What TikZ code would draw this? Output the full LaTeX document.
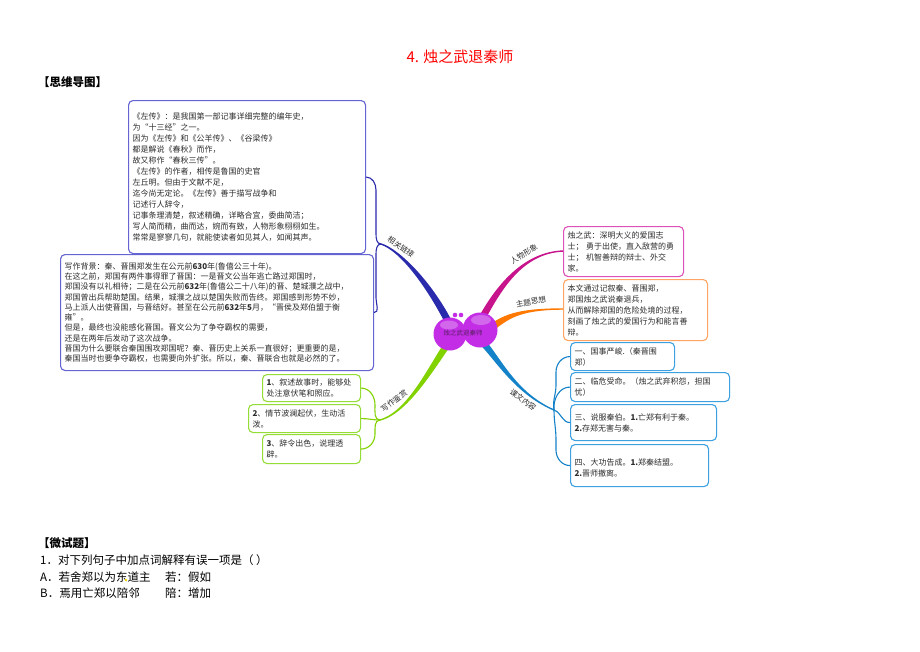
\documentclass[tikz,border=0pt]{standalone}
\usepackage{fontspec}
\setmainfont{Noto Sans CJK SC}
\usetikzlibrary{calc}
\definecolor{txt}{RGB}{45,45,45}
\definecolor{ttl}{RGB}{255,0,0}
\definecolor{cA}{RGB}{42,42,172}
\definecolor{bA}{RGB}{100,100,210}
\definecolor{cB}{RGB}{200,20,140}
\definecolor{bB}{RGB}{222,80,185}
\definecolor{cC}{RGB}{255,120,0}
\definecolor{bC}{RGB}{255,165,100}
\definecolor{cD}{RGB}{20,130,200}
\definecolor{bD}{RGB}{60,160,225}
\definecolor{cE}{RGB}{130,210,0}
\definecolor{bE}{RGB}{150,220,55}
\definecolor{blob}{RGB}{195,45,230}
\definecolor{ctrtxt}{RGB}{90,30,100}
\begin{document}
\begin{tikzpicture}[x=1pt,y=-1pt,
  mbox/.style={draw, rounded corners=4.5pt, line width=1.1pt, fill=white, anchor=north west,
    align=left, inner xsep=4pt, inner ysep=2pt, font=\fontsize{8}{11}\selectfont, text=txt},
  lbl/.style={font=\fontsize{7.6}{8}\selectfont, text=txt, inner sep=0.5pt},
  twig/.style={line width=1.1pt},
  plain/.style={anchor=west, inner sep=0pt, text=black, font=\fontsize{11.5}{12}\selectfont}]
\fill[white] (0,0) rectangle (920,651);
\useasboundingbox (0,0) rectangle (920,651);

% title and header
\node[text=ttl, font=\fontsize{15}{15}\selectfont] (title) at (460,57) {4. 烛之武退秦师};
\node[plain, font=\bfseries\fontsize{11.5}{12}\selectfont] (hdr) at (38,82) {【思维导图】};

% hub coordinates
\coordinate (hA) at (381,244);
\coordinate (hD) at (554,410);
\coordinate (hE) at (380,420);

% tapered main branches
\fill[cA] (453.1,323.4) .. controls (433.1,283.4) and (400.2,249.3) .. (381.2,243.3)
  -- (380.8,244.7) .. controls (399.8,250.7) and (426.9,286.6) .. (446.9,326.6) -- cycle;
\fill[cB] (483.1,323.6) .. controls (500.1,291.6) and (522,252.7) .. (564,251.7)
  -- (564,250.3) .. controls (522,251.3) and (493.9,288.4) .. (476.9,320.4) -- cycle;
\fill[cC] (490,332.9) .. controls (507,320.9) and (515,309.7) .. (564,309.7)
  -- (564,308.3) .. controls (515,308.3) and (503,315.1) .. (486,327.1) -- cycle;
\fill[cD] (480.2,335.3) .. controls (497.2,349.3) and (512.3,391.4) .. (554.3,409.4)
  -- (553.7,410.6) .. controls (511.7,392.6) and (492.8,354.7) .. (475.8,340.7) -- cycle;
\fill[cE] (454.8,340.1) .. controls (437.8,362.1) and (410.2,412.7) .. (380.2,420.7)
  -- (379.8,419.3) .. controls (409.8,411.3) and (432.2,357.9) .. (449.2,335.9) -- cycle;

% boxes
\node[mbox, draw=bA, text width=229pt, minimum height=153pt] (tl) at (128,100) {%
《左传》：是我国第一部记事详细完整的编年史，\\
为“十三经”之一。\\
因为《左传》和《公羊传》、《谷梁传》\\
都是解说《春秋》而作，\\
故又称作“春秋三传”。\\
《左传》的作者，相传是鲁国的史官\\
左丘明。但由于文献不足，\\
迄今尚无定论。《左传》善于描写战争和\\
记述行人辞令，\\
记事条理清楚，叙述精确，详略合宜，委曲简洁；\\
写人简而精，曲而达，婉而有致，人物形象栩栩如生。\\
常常是寥寥几句，就能使读者如见其人，如闻其声。};

\node[mbox, draw=bA, text width=305pt, minimum height=116pt, font=\fontsize{8}{10.3}\selectfont] (lb) at (60,254) {%
写作背景：秦、晋围郑发生在公元前\textbf{630}年(鲁僖公三十年)。\\
在这之前，郑国有两件事得罪了晋国：一是晋文公当年逃亡路过郑国时，\\
郑国没有以礼相待；二是在公元前\textbf{632}年(鲁僖公二十八年)的晋、楚城濮之战中，\\
郑国曾出兵帮助楚国。结果，城濮之战以楚国失败而告终。郑国感到形势不妙，\\
马上派人出使晋国，与晋结好。甚至在公元前\textbf{632}年\textbf{5}月，“晋侯及郑伯盟于衡\\
雍”。\\
但是，最终也没能感化晋国。晋文公为了争夺霸权的需要，\\
还是在两年后发动了这次战争。\\
晋国为什么要联合秦国围攻郑国呢？秦、晋历史上关系一直很好；更重要的是，\\
秦国当时也要争夺霸权，也需要向外扩张。所以，秦、晋联合也就是必然的了。};

\node[mbox, draw=bB, text width=112pt, minimum height=50pt] (mg) at (563,226) {%
烛之武：深明大义的爱国志\\士； 勇于出使，直入敌营的勇\\士； 机智善辩的辩士、外交\\家。};
\node[mbox, draw=bC, text width=136pt, minimum height=61pt] (og) at (563,279) {%
本文通过记叙秦、晋围郑，\\郑国烛之武说秦退兵，\\从而解除郑国的危险处境的过程，\\刻画了烛之武的爱国行为和能言善\\辩。};

\node[mbox, draw=bD, text width=96pt, minimum height=28pt] (b1) at (570,342) {一、国事严峻.（秦晋围\\郑）};
\node[mbox, draw=bD, text width=151pt, minimum height=29pt] (b2) at (570,372) {二、临危受命。（烛之武弃积怨，担国\\忧）};
\node[mbox, draw=bD, text width=138pt, minimum height=36pt] (b3) at (570,404) {三、说服秦伯。\textbf{1.}亡郑有利于秦。\\\textbf{2.}存郑无害与秦。};
\node[mbox, draw=bD, text width=130pt, minimum height=42pt] (b4) at (570,444) {\mbox{}\\四、大功告成。\textbf{1.}郑秦结盟。\\\textbf{2.}晋师撤离。};

\node[mbox, draw=bE, text width=90pt, minimum height=27pt] (g1) at (262,374) {\textbf{1}、叙述故事时，能够处\\处注意伏笔和照应。};
\node[mbox, draw=bE, text width=104pt, minimum height=28pt] (g2) at (248,404) {\textbf{2}、情节波澜起伏，生动活\\泼。};
\node[mbox, draw=bE, text width=90pt, minimum height=29pt] (g3) at (262,434) {\textbf{3}、辞令出色，说理透\\辟。};

% sub-branch connectors
\draw[twig, cA] (hA) to[out=180,in=-90] (376,234) -- (376,190) to[out=90,in=0] (tl.east);
\draw[twig, cA] (hA) to[out=180,in=90] (376,254) -- (376,298) to[out=-90,in=0] (lb.east);

\draw[twig, cE] (hE) to[out=180,in=-90] (375,405) to[out=90,in=0] (g1.east);
\draw[twig, cE] (hE) to[out=180,in=0] (g2.east);
\draw[twig, cE] (hE) to[out=180,in=90] (375,434) to[out=-90,in=0] (g3.east);

\draw[twig, cD] (hD) to[out=100,in=-90] (556,385) -- (556,372) to[out=90,in=180] (b1.west);
\draw[twig, cD] (hD) to[out=95,in=180] (b2.west);
\draw[twig, cD] (hD) to[out=-20,in=180] (b3.west);
\draw[twig, cD] (hD) to[out=-90,in=90] (556,440) -- (556,450) to[out=-90,in=180] (b4.west);

% central topic
\fill[blob] (450,334) circle (16.5);
\fill[blob] (480,330) circle (17.5);
\fill[white, opacity=0.28] (449,325) ellipse (9 and 4.5);
\fill[white, opacity=0.28] (481,320) ellipse (10 and 5);
\fill[blob] (455,315) circle (2.3);
\fill[blob] (461,315) circle (2.3);
\node[font=\fontsize{6.5}{7}\selectfont, text=ctrtxt, inner sep=0pt] (ctr) at (463,333) {烛之武退秦师};

% branch labels
\node[lbl, rotate=-34] (lA) at (401,247) {相关链接};
\node[lbl, rotate=32] (lB) at (524,254) {人物形象};
\node[lbl, rotate=12] (lC) at (531,302) {主题思想};
\node[lbl, rotate=-36] (lD) at (523,400) {课文内容};
\node[lbl, rotate=36] (lE) at (394,401) {写作鉴赏};

% exercise text
\node[plain, font=\bfseries\fontsize{11.5}{12}\selectfont] (wst) at (38,543) {【微试题】};
\node[plain] (q1) at (40,560) {1．对下列句子中加点词解释有误一项是（ ）};
\node[plain] (qa) at (40,577) {A．若舍郑以为东道主};
\node[plain] (qa2) at (165,577) {若：假如};
\node[plain] (qb) at (40,593) {B．焉用亡郑以陪邻};
\node[plain] (qb2) at (165,593) {陪：增加};
\fill[yellow!85!orange] (126,580) circle (1.3);
\end{tikzpicture}
\end{document}
